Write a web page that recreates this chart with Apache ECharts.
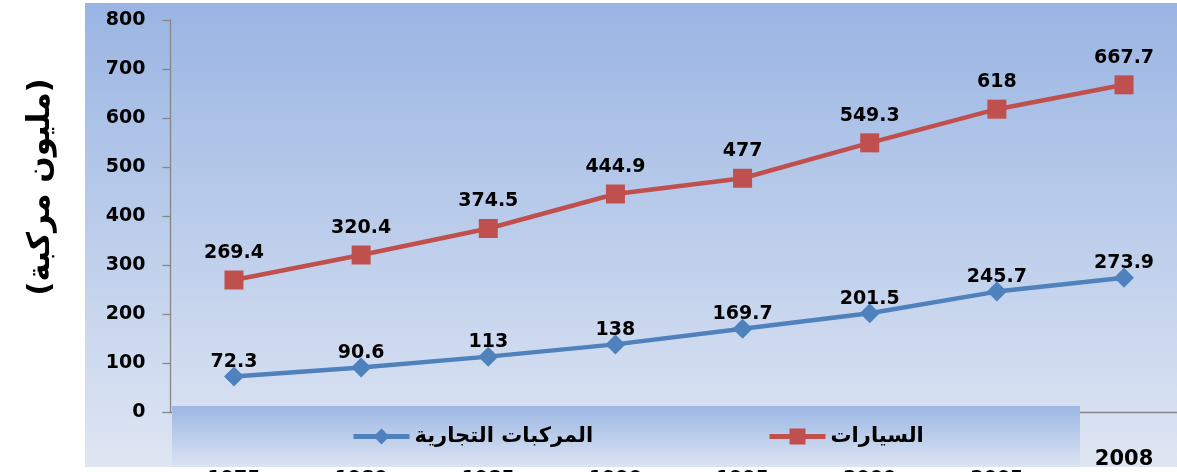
<!DOCTYPE html>
<html>
<head>
<meta charset="utf-8">
<script src="https://cdn.jsdelivr.net/npm/echarts@6/dist/echarts.min.js"></script>
<style>html,body{margin:0;padding:0;background:#fff}#c{width:1177px;height:472px}</style>
</head>
<body>
<div id="c"></div>
<script>
const years = ['1975','1980','1985','1990','1995','2000','2005','2008'];
const cars = [269.4, 320.4, 374.5, 444.9, 477, 549.3, 618, 667.7];
const commercial = [72.3, 90.6, 113, 138, 169.7, 201.5, 245.7, 273.9];
const carsName = 'السيارات';
const commercialName = 'المركبات التجارية';
const yTitle = '(مليون مركبة)';

const FONT = 'DejaVu Sans';
const chart = echarts.init(document.getElementById('c'), null, {renderer: 'canvas'});
chart.setOption({
  animation: false,
  backgroundColor: '#ffffff',
  graphic: [
    {type: 'rect', z: -10, silent: true, shape: {x: 85, y: 3, width: 1092, height: 464},
     style: {fill: new echarts.graphic.LinearGradient(0, 0, 0, 1, [
       {offset: 0, color: '#9ab5e3'}, {offset: 1, color: '#dfe6f3'}])}},
    {type: 'rect', z: 50, silent: true, shape: {x: 172, y: 406, width: 908, height: 61},
     style: {fill: new echarts.graphic.LinearGradient(0, 0, 0, 1, [
       {offset: 0, color: '#9cb7e3'}, {offset: 1, color: '#dce4f2'}])}},
    {type: 'text', z: 5, x: 41, y: 187, rotation: Math.PI / 2,
     style: {text: yTitle, font: 'bold 31px "' + FONT + '"', fill: '#000',
       align: 'center', verticalAlign: 'middle'}}
  ],
  legend: [
    {z: 60, left: 346, top: 421, itemWidth: 56, itemHeight: 20, itemGap: 0,
     data: [commercialName], lineStyle: {width: 5},
     textStyle: {fontFamily: FONT, fontWeight: 'bold', fontSize: 21, color: '#000', padding: [0,0,0,0]}},
    {z: 60, left: 762, top: 421, itemWidth: 56, itemHeight: 20, itemGap: 0,
     data: [carsName], lineStyle: {width: 5},
     textStyle: {fontFamily: FONT, fontWeight: 'bold', fontSize: 21, color: '#000', padding: [0,0,0,0]}}
  ],
  grid: {left: 170.4, right: -10.6, top: 20, bottom: 60, containLabel: false, outerBoundsMode: 'none'},
  xAxis: {
    type: 'category', data: years, boundaryGap: true,
    axisLine: {lineStyle: {color: '#868686', width: 1.3}},
    axisTick: {length: 8, lineStyle: {color: '#868686', width: 1.3}},
    axisLabel: {
      margin: 37, interval: 0, hideOverlap: false,
      formatter: (v, i) => i === years.length - 1 ? '{a|' + v + '}' : '{b|' + v + '}',
      rich: {
        a: {fontFamily: FONT, fontWeight: 'bold', fontSize: 21, color: '#000'},
        b: {fontFamily: FONT, fontWeight: 'bold', fontSize: 19, color: '#000', padding: [21, 0, 0, 0]}
      }
    }
  },
  yAxis: {
    type: 'value', min: 0, max: 800, interval: 100,
    axisLine: {show: true, lineStyle: {color: '#868686', width: 1.3}},
    axisTick: {show: true, length: 8, lineStyle: {color: '#868686', width: 1.3}},
    splitLine: {show: false},
    axisLabel: {margin: 25, fontFamily: FONT, fontWeight: 'bold', fontSize: 19, color: '#000'}
  },
  series: [
    {name: commercialName, type: 'line', data: commercial, symbol: 'diamond', symbolSize: 20,
     lineStyle: {color: '#4f81bd', width: 4.5}, itemStyle: {color: '#4f81bd'},
     label: {show: true, position: 'top', distance: -5, fontFamily: FONT, fontWeight: 'bold', fontSize: 19, color: '#000'}},
    {name: carsName, type: 'line', data: cars, symbol: 'rect', symbolSize: 19,
     lineStyle: {color: '#c0504d', width: 4.5}, itemStyle: {color: '#c0504d'},
     label: {show: true, position: 'top', distance: 8, fontFamily: FONT, fontWeight: 'bold', fontSize: 19, color: '#000'}}
  ]
});
</script>
</body>
</html>
